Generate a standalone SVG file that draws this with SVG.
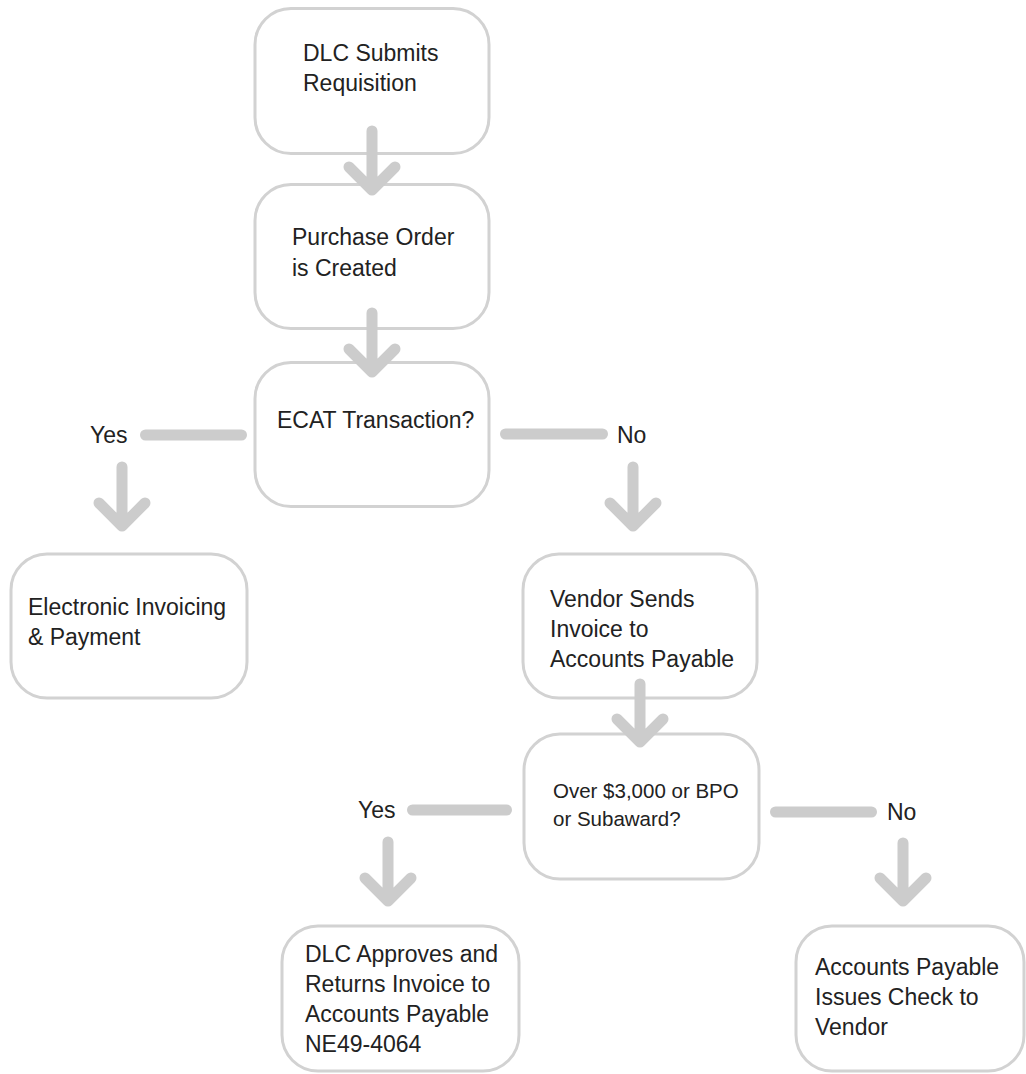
<svg xmlns="http://www.w3.org/2000/svg" width="1026" height="1074" viewBox="0 0 1026 1074">
<style>
.box{fill:#fff;stroke:#d2d2d2;stroke-width:3}
.t{font-family:"Liberation Sans",Arial,sans-serif;font-size:23px;fill:#222}
.s{font-size:20.5px}
.c{fill:none;stroke:#cccccc;stroke-width:11;stroke-linecap:round;stroke-linejoin:round}
</style>
<rect width="1026" height="1074" fill="#fff"/>
<g id="n1"><rect class="box" x="255" y="8.5" width="234" height="145" rx="36"/>
<text class="t" x="303" y="61">DLC Submits</text><text class="t" x="303" y="91">Requisition</text></g>
<g id="n2"><rect class="box" x="255" y="184.5" width="234" height="144" rx="36"/>
<text class="t" x="292" y="245">Purchase Order</text><text class="t" x="292" y="276">is Created</text></g>
<g id="n3"><rect class="box" x="255" y="362.5" width="234" height="144" rx="36"/>
<text class="t" x="277" y="428">ECAT Transaction?</text></g>
<g id="n4"><rect class="box" x="11" y="554" width="236" height="144" rx="36"/>
<text class="t" x="28" y="615">Electronic Invoicing</text><text class="t" x="28" y="645">&amp; Payment</text></g>
<g id="n5"><rect class="box" x="523" y="554" width="234" height="144" rx="36"/>
<text class="t" x="550" y="607">Vendor Sends</text><text class="t" x="550" y="637">Invoice to</text><text class="t" x="550" y="667">Accounts Payable</text></g>
<g id="n6"><rect class="box" x="524" y="734" width="235" height="145" rx="36"/>
<text class="t s" x="553" y="798">Over $3,000 or BPO</text><text class="t s" x="553" y="826">or Subaward?</text></g>
<g id="n7"><rect class="box" x="282" y="926" width="237" height="145" rx="36"/>
<text class="t" x="305" y="962">DLC Approves and</text><text class="t" x="305" y="992">Returns Invoice to</text><text class="t" x="305" y="1022">Accounts Payable</text><text class="t" x="305" y="1052">NE49-4064</text></g>
<g id="n8"><rect class="box" x="796" y="926" width="228" height="145" rx="36"/>
<text class="t" x="815" y="975">Accounts Payable</text><text class="t" x="815" y="1005">Issues Check to</text><text class="t" x="815" y="1035">Vendor</text></g>
<g id="connectors">
<path class="c" d="M372 131V189M349 167L372 190L395 167"/>
<path class="c" d="M372 313V371M349 349L372 372L395 349"/>
<path class="c" d="M145.5 435H241.5M122 467V525M99 503L122 526L145 503"/>
<path class="c" d="M505.5 434H602.5M633 467V525M610 503L633 526L656 503"/>
<path class="c" d="M640 684V741M617 719L640 742L663 719"/>
<path class="c" d="M412.5 810H506.5M388 842V900M365 878L388 901L411 878"/>
<path class="c" d="M775.5 812H871.5M903 843V900M880 878L903 901L926 878"/>
<text class="t" x="90" y="443">Yes</text>
<text class="t" x="617" y="443">No</text>
<text class="t" x="358" y="818">Yes</text>
<text class="t" x="887" y="820">No</text>
</g>
</svg>
